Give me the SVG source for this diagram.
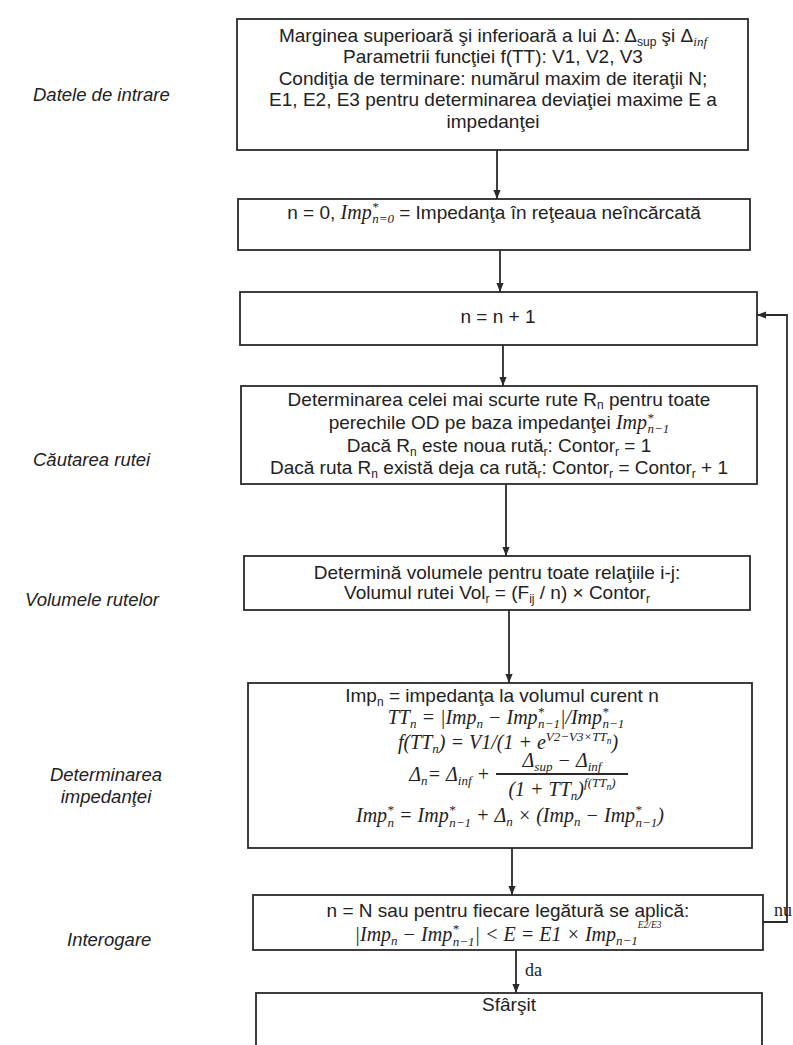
<svg xmlns="http://www.w3.org/2000/svg" width="793" height="1045" viewBox="0 0 793 1045">
<defs>
<marker id="ah" viewBox="0 0 10 10" refX="10" refY="5" markerWidth="9" markerHeight="9" markerUnits="userSpaceOnUse" orient="auto">
<path d="M0,1 L10,5 L0,9 Z" fill="#2a2a2a"/>
</marker>
<style>
.box{fill:#fff;stroke:#2a2a2a;stroke-width:1.8}
.ln{fill:none;stroke:#2a2a2a;stroke-width:1.8}
.ar{fill:none;stroke:#2a2a2a;stroke-width:1.8;marker-end:url(#ah)}
.t{font-family:"Liberation Sans",Arial,sans-serif;font-size:19px;fill:#222;text-anchor:middle}
.m{font-family:"Liberation Serif","Times New Roman",serif;font-style:italic;font-size:20px;fill:#222;text-anchor:middle}
.me{text-anchor:end}
.lb{font-family:"Liberation Sans",Arial,sans-serif;font-style:italic;font-size:18.5px;fill:#222}
.lbc{text-anchor:middle}
.rs{font-family:"Liberation Serif","Times New Roman",serif;font-size:18px;fill:#222}
.s{font-size:12px}
.ms{font-size:13px}
.mss{font-size:9.5px}
.mi{font-family:"Liberation Serif","Times New Roman",serif;font-style:italic;font-size:20px}
.mis{font-family:"Liberation Serif","Times New Roman",serif;font-style:italic;font-size:13px}
</style>
</defs>
<rect x="0" y="0" width="793" height="1045" fill="#fff"/>

<g id="labels">
<text class="lb" x="33" y="101">Datele de intrare</text>
<text class="lb" x="33" y="466">Căutarea rutei</text>
<text class="lb" x="25" y="606">Volumele rutelor</text>
<text class="lb lbc" x="106" y="781">Determinarea</text>
<text class="lb lbc" x="106" y="803">impedanţei</text>
<text class="lb" x="67" y="946">Interogare</text>
</g>

<g id="connectors">
<line class="ar" x1="497" y1="150" x2="497" y2="199"/>
<line class="ar" x1="500" y1="250" x2="500" y2="292"/>
<line class="ar" x1="503" y1="345" x2="503" y2="386"/>
<line class="ar" x1="506" y1="484" x2="506" y2="556"/>
<line class="ar" x1="509" y1="610" x2="509" y2="683"/>
<line class="ar" x1="512" y1="848" x2="512" y2="895"/>
<line class="ar" x1="516" y1="950" x2="516" y2="993"/>
<polyline class="ar" points="763,922 787,922 787,315 757,315"/>
<text class="rs" x="525" y="976">da</text>
<text class="rs" x="774" y="916">nu</text>
</g>

<g id="n1">
<rect class="box" x="237" y="19" width="511" height="131"/>
<text class="t" x="493" y="42">Marginea superioară şi inferioară a lui Δ: Δ<tspan class="s" dy="4">sup</tspan><tspan dy="-4"> şi Δ</tspan><tspan class="mis" dy="4">inf</tspan></text>
<text class="t" x="493" y="63">Parametrii funcţiei f(TT): V1, V2, V3</text>
<text class="t" x="493" y="85">Condiţia de terminare: numărul maxim de iteraţii N;</text>
<text class="t" x="493" y="106">E1, E2, E3 pentru determinarea deviaţiei maxime E a</text>
<text class="t" x="493" y="128">impedanţei</text>
</g>

<g id="n2">
<rect class="box" x="238" y="199" width="512" height="51"/>
<text class="t" x="494" y="219">n = 0, <tspan class="mi">Imp</tspan><tspan class="mis" dy="-8">*</tspan><tspan class="mis" dx="-6" dy="12">n=0</tspan><tspan dy="-4"> = Impedanţa în reţeaua neîncărcată</tspan></text>
</g>

<g id="n3">
<rect class="box" x="240" y="292" width="517" height="53"/>
<text class="t" x="498" y="323">n = n + 1</text>
</g>

<g id="n4">
<rect class="box" x="241" y="386" width="516" height="98"/>
<text class="t" x="499" y="406">Determinarea celei mai scurte rute R<tspan class="s" dy="3">n</tspan><tspan dy="-3"> pentru toate</tspan></text>
<text class="t" x="499" y="429">perechile OD pe baza impedanţei <tspan class="mi">Imp</tspan><tspan class="mis" dy="-7">*</tspan><tspan class="mis" dx="-6" dy="11">n−1</tspan></text>
<text class="t" x="499" y="452">Dacă R<tspan class="s" dy="4">n</tspan><tspan dy="-4"> este noua rută</tspan><tspan class="s" dy="4">r</tspan><tspan dy="-4">: Contor</tspan><tspan class="s" dy="4">r</tspan><tspan dy="-4"> = 1</tspan></text>
<text class="t" x="499" y="474">Dacă ruta R<tspan class="s" dy="4">n</tspan><tspan dy="-4"> există deja ca rută</tspan><tspan class="s" dy="4">r</tspan><tspan dy="-4">: Contor</tspan><tspan class="s" dy="4">r</tspan><tspan dy="-4"> = Contor</tspan><tspan class="s" dy="4">r</tspan><tspan dy="-4"> + 1</tspan></text>
</g>

<g id="n5">
<rect class="box" x="244" y="556" width="506" height="54"/>
<text class="t" x="497" y="579">Determină volumele pentru toate relaţiile i-j:</text>
<text class="t" x="497" y="599">Volumul rutei Vol<tspan class="s" dy="4">r</tspan><tspan dy="-4"> = (F</tspan><tspan class="s" dy="4">ij</tspan><tspan dy="-4"> / n) × Contor</tspan><tspan class="s" dy="4">r</tspan></text>
</g>

<g id="n6">
<rect class="box" x="248" y="683" width="504" height="165"/>
<text class="t" x="502" y="702">Imp<tspan class="s" dy="4">n</tspan><tspan dy="-4"> = impedanţa la volumul curent n</tspan></text>
<text class="m" x="506" y="724">TT<tspan class="ms" dy="4">n</tspan><tspan dy="-4"> = |Imp</tspan><tspan class="ms" dy="4">n</tspan><tspan dy="-4"> − Imp</tspan><tspan class="ms" dy="-8">*</tspan><tspan class="ms" dx="-6" dy="12">n−1</tspan><tspan dy="-4">|/Imp</tspan><tspan class="ms" dy="-8">*</tspan><tspan class="ms" dx="-6" dy="12">n−1</tspan></text>
<text class="m" x="508" y="749">f(TT<tspan class="ms" dy="4">n</tspan><tspan dy="-4">) = V1/(1 + e</tspan><tspan class="ms" dy="-8">V2−V3×TT</tspan><tspan class="mss" dy="3">n</tspan><tspan dy="5">)</tspan></text>
<text class="m me" x="490" y="781">Δ<tspan class="ms" dy="4">n</tspan><tspan dy="-4">= Δ</tspan><tspan class="ms" dy="4">inf</tspan><tspan dy="-4"> +</tspan></text>
<text class="m" x="562" y="767">Δ<tspan class="ms" dy="4">sup</tspan><tspan dy="-4"> − Δ</tspan><tspan class="ms" dy="4">inf</tspan></text>
<line class="ln" x1="496" y1="774" x2="628" y2="774" stroke-width="1.2"/>
<text class="m" x="562" y="796">(1 + TT<tspan class="ms" dy="4">n</tspan><tspan dy="-4">)</tspan><tspan class="ms" dy="-9">f(TT</tspan><tspan class="mss" dy="3">n</tspan><tspan class="ms" dy="-3">)</tspan></text>
<text class="m" x="510" y="822">Imp<tspan class="ms" dy="-8">*</tspan><tspan class="ms" dx="-6" dy="13">n</tspan><tspan dy="-5"> = Imp</tspan><tspan class="ms" dy="-8">*</tspan><tspan class="ms" dx="-6" dy="13">n−1</tspan><tspan dy="-5"> + Δ</tspan><tspan class="ms" dy="4">n</tspan><tspan dy="-4"> × (Imp</tspan><tspan class="ms" dy="4">n</tspan><tspan dy="-4"> − Imp</tspan><tspan class="ms" dy="-8">*</tspan><tspan class="ms" dx="-6" dy="13">n−1</tspan><tspan dy="-5">)</tspan></text>
</g>

<g id="n7">
<rect class="box" x="253" y="895" width="510" height="55"/>
<text class="t" x="508" y="917">n = N sau pentru fiecare legătură se aplică:</text>
<text class="m" x="508" y="941">|Imp<tspan class="ms" dy="4">n</tspan><tspan dy="-4"> − Imp</tspan><tspan class="ms" dy="-8">*</tspan><tspan class="ms" dx="-6" dy="13">n−1</tspan><tspan dy="-5">| &lt; E = E1 × Imp</tspan><tspan class="ms" dy="4">n−1</tspan><tspan class="mss" dy="-17">E2/E3</tspan></text>
</g>

<g id="n8">
<rect class="box" x="256" y="993" width="506" height="70"/>
<text class="t" x="509" y="1011">Sfârşit</text>
</g>
</svg>
